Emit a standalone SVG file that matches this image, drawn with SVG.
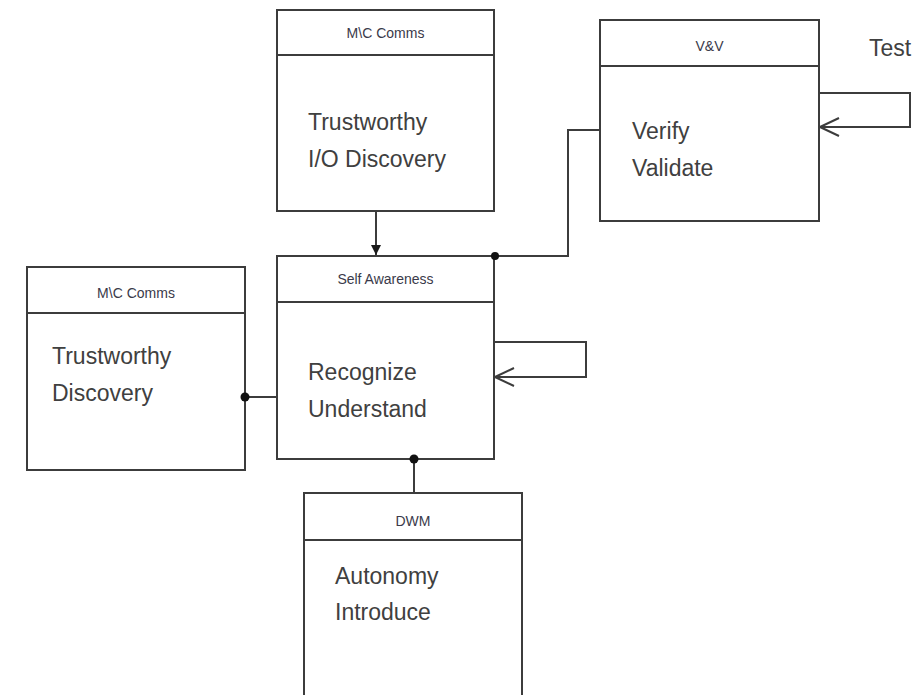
<svg xmlns="http://www.w3.org/2000/svg" width="923" height="695" viewBox="0 0 923 695">
<style>
.box{fill:#fff;stroke:#3c3c3c;stroke-width:2}
.div{stroke:#3c3c3c;stroke-width:2}
.hdr{font-family:"Liberation Sans",Arial,sans-serif;font-size:14px;fill:#3a3a4a;text-anchor:middle}
.body{font-family:"Liberation Sans",Arial,sans-serif;font-size:23px;fill:#404040}
.con{fill:none;stroke:#3c3c3c;stroke-width:2}
</style>
<defs>
<marker id="filled" markerWidth="12" markerHeight="12" refX="10" refY="5" orient="auto" markerUnits="userSpaceOnUse">
<path d="M0,0 L10,5 L0,10 Z" fill="#1a1a1a"/>
</marker>
<marker id="open" markerWidth="22" markerHeight="22" refX="20" refY="10" orient="auto" markerUnits="userSpaceOnUse">
<path d="M1,1 L20,10 L1,19" fill="none" stroke="#3c3c3c" stroke-width="2"/>
</marker>
</defs>
<rect width="923" height="695" fill="#fff"/>
<g id="mc-top">
<rect class="box" x="277" y="10" width="217" height="201"/>
<line class="div" x1="277" y1="55" x2="494" y2="55"/>
<text class="hdr" x="385.5" y="38">M\C Comms</text>
<text class="body" x="308" y="130">Trustworthy</text>
<text class="body" x="308" y="167">I/O Discovery</text>
</g>
<g id="vv">
<rect class="box" x="600" y="20" width="219" height="201"/>
<line class="div" x1="600" y1="66" x2="819" y2="66"/>
<text class="hdr" x="709.5" y="51">V&amp;V</text>
<text class="body" x="632" y="139">Verify</text>
<text class="body" x="632" y="176">Validate</text>
</g>
<g id="test-label">
<text class="body" x="869" y="56">Test</text>
</g>
<g id="self-awareness">
<rect class="box" x="277" y="256" width="217" height="203"/>
<line class="div" x1="277" y1="302" x2="494" y2="302"/>
<text class="hdr" x="385.5" y="284">Self Awareness</text>
<text class="body" x="308" y="380">Recognize</text>
<text class="body" x="308" y="417">Understand</text>
</g>
<g id="mc-left">
<rect class="box" x="27" y="267" width="218" height="203"/>
<line class="div" x1="27" y1="313" x2="245" y2="313"/>
<text class="hdr" x="136" y="298">M\C Comms</text>
<text class="body" x="52" y="364">Trustworthy</text>
<text class="body" x="52" y="401">Discovery</text>
</g>
<g id="dwm">
<rect class="box" x="304" y="493" width="218" height="210"/>
<line class="div" x1="304" y1="540" x2="522" y2="540"/>
<text class="hdr" x="413" y="526">DWM</text>
<text class="body" x="335" y="584">Autonomy</text>
<text class="body" x="335" y="620">Introduce</text>
</g>
<g id="connectors">
<line class="con" x1="376" y1="211" x2="376" y2="255" marker-end="url(#filled)"/>
<polyline class="con" points="495,256 568,256 568,130 600,130"/>
<circle cx="495" cy="256" r="4" fill="#111"/>
<polyline class="con" points="245,397 277,397"/>
<circle cx="245" cy="397" r="4.5" fill="#111"/>
<polyline class="con" points="414,459 414,493"/>
<circle cx="414" cy="459" r="4.5" fill="#111"/>
<polyline class="con" points="494,342 586,342 586,377 495,377" marker-end="url(#open)"/>
<polyline class="con" points="819,93 910,93 910,127 820,127" marker-end="url(#open)"/>
</g>
</svg>
